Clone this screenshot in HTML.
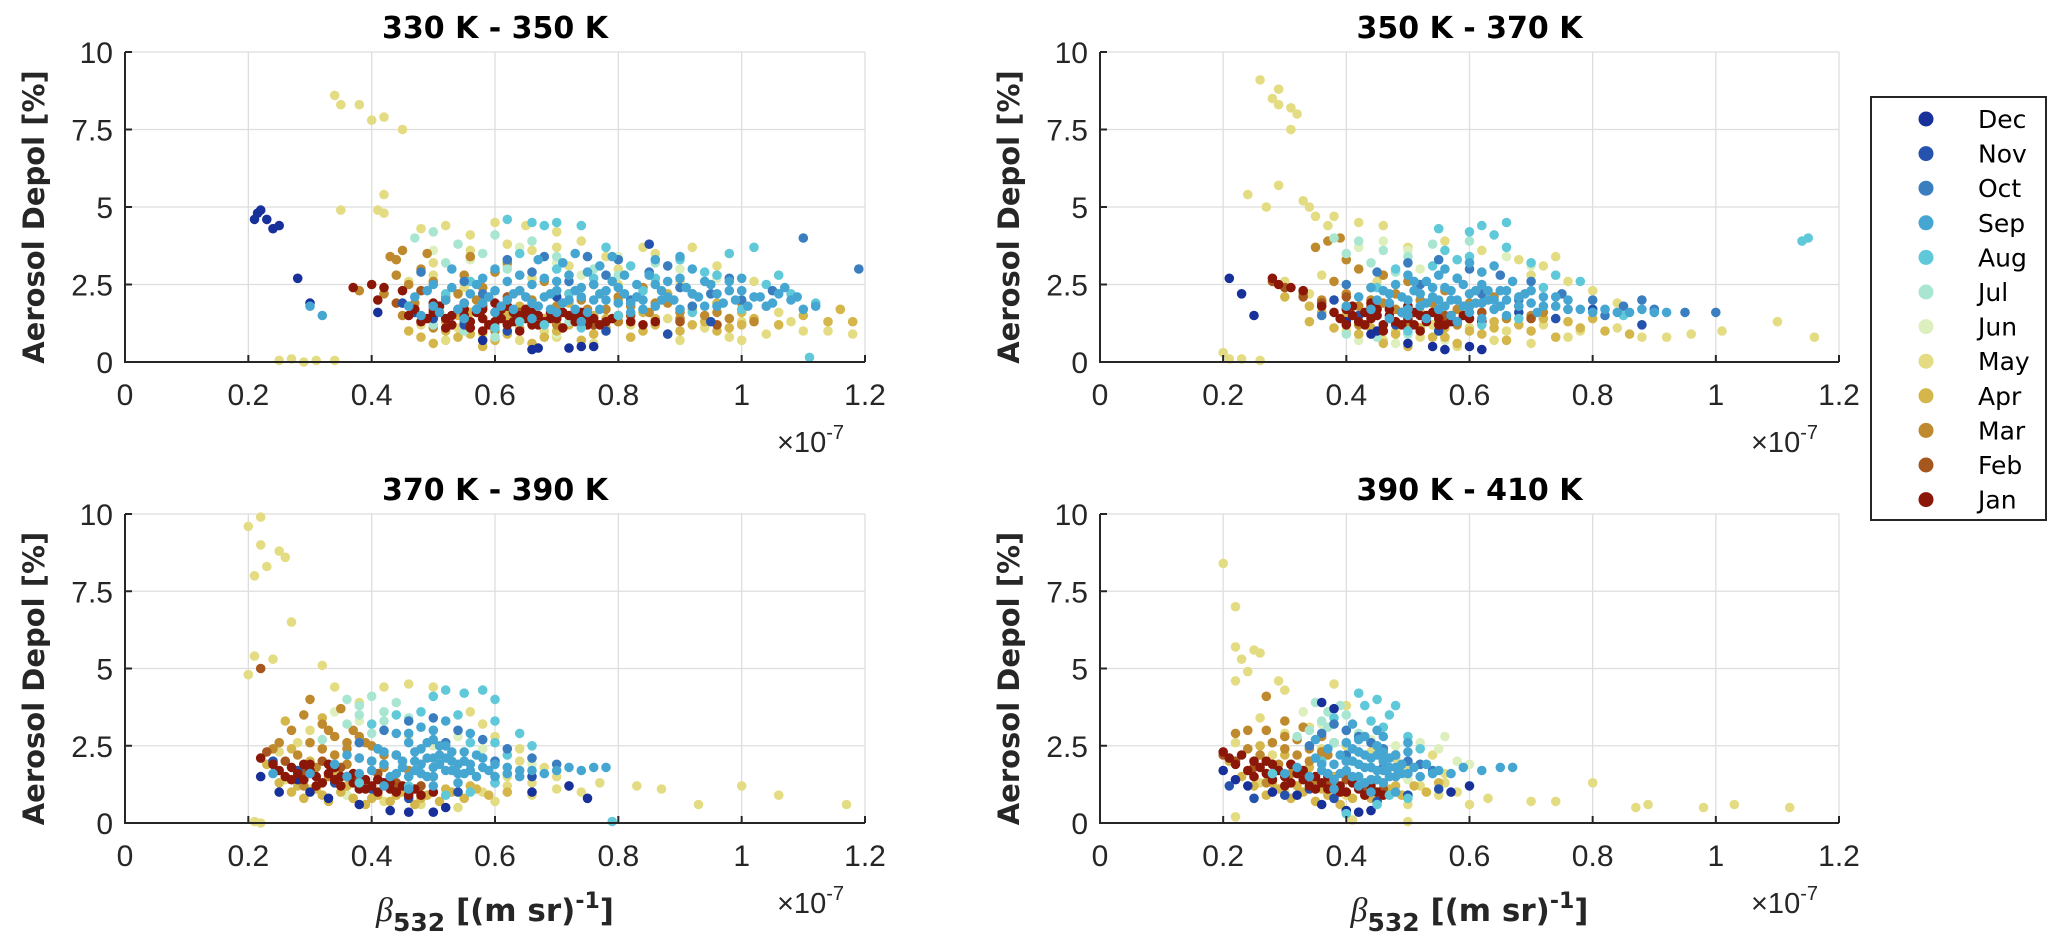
<!DOCTYPE html>
<html><head><meta charset="utf-8">
<style>
html,body{margin:0;padding:0;background:#fff;}
svg{display:block;font-family:"Liberation Sans","DejaVu Sans",sans-serif;}
</style></head>
<body>
<svg id="fig" width="2067" height="951" viewBox="0 0 2067 951" xmlns="http://www.w3.org/2000/svg"></svg>
<script>
// ---------- data ----------
const months = ["Dec","Nov","Oct","Sep","Aug","Jul","Jun","May","Apr","Mar","Feb","Jan"];
const monthColors = ["#17309a","#2452ad","#3a7ec0","#46a6d2","#5fc9d9","#a9e6d2","#dcefbd","#e4dc82","#d4b64a","#bf8a2e","#a6571e","#8a1708"];
const drawOrder = ["May","Jun","Apr","Mar","Jul","Feb","Dec","Nov","Jan","Aug","Oct","Sep"];
const xTicks = [0,0.2,0.4,0.6,0.8,1,1.2];
const xTickLabels = ["0","0.2","0.4","0.6","0.8","1","1.2"];
const yTicks = [0,2.5,5,7.5,10];
const yTickLabels = ["0","2.5","5","7.5","10"];
const panelTitles = ["330 K - 350 K","350 K - 370 K","370 K - 390 K","390 K - 410 K"];

// panel 1 : 330-350 K   (x in 1e-7 (m sr)^-1, y in %)
const p1_Dec=[0.21,4.6,0.215,4.8,0.22,4.9,0.23,4.6,0.24,4.3,0.25,4.4,0.28,2.7,0.30,1.9,0.66,0.4,0.67,0.45,0.72,0.45,0.74,0.5,0.76,0.5,0.41,1.6,0.58,0.7];
const p1_Nov=[0.45,1.9,0.5,1.4,0.55,1.2,0.62,1.0,0.7,2.1,0.78,1.0,0.85,3.8,0.95,1.3,0.47,1.6,0.88,0.9];
const p1_Oct=[0.48,2.9,0.55,2.6,0.62,3.3,0.68,3.4,0.75,3.4,0.8,3.3,0.85,2.9,0.9,2.4,0.95,2.2,1.0,2.0,1.05,2.3,1.1,4.0,1.19,3.0,0.72,2.6,0.82,2.0,0.92,1.8,0.58,2.2,0.66,2.9,0.78,2.8,0.88,3.1,0.98,2.7];
const p1_Sep=[0.32,1.5,0.3,1.8,0.46,1.8,0.48,1.5,0.5,1.8,0.52,2.0,0.54,1.7,0.56,2.2,0.58,1.9,0.6,1.6,0.6,2.3,0.62,2.0,0.63,1.7,0.65,2.1,0.66,2.5,0.67,1.8,0.69,2.2,0.7,1.6,0.7,2.6,0.72,2.0,0.73,1.7,0.74,2.4,0.75,2.9,0.76,2.0,0.77,1.7,0.78,2.3,0.79,2.6,0.8,1.9,0.81,2.2,0.82,1.6,0.83,2.5,0.84,2.0,0.85,2.8,0.86,1.8,0.87,2.3,0.88,2.6,0.89,2.0,0.9,1.7,0.91,2.4,0.92,3.0,0.93,2.1,0.94,1.8,0.95,2.5,0.96,2.2,0.97,1.9,0.98,2.6,0.99,2.0,1.0,2.3,1.01,1.8,1.03,2.1,1.05,1.9,1.07,2.4,1.08,2.0,1.1,1.7,1.12,1.8,0.58,2.7,0.64,2.8,0.71,3.2,0.79,3.4,0.55,1.4,0.66,1.4,0.74,1.3,0.5,2.5,0.53,3.0,
0.47,2.1,0.49,2.3,0.51,1.6,0.53,2.4,0.55,1.9,0.57,2.5,0.59,2.1,0.61,1.8,0.62,2.6,0.64,2.3,0.66,1.9,0.68,2.1,0.68,2.7,0.7,2.3,0.71,1.9,0.72,2.8,0.74,2.1,0.75,1.6,0.76,2.5,0.78,2.0,0.8,2.4,0.81,2.8,0.83,2.1,0.84,1.7,0.86,2.5,0.88,2.1,0.9,2.7,0.92,2.2,0.94,2.6,0.96,1.8,0.98,2.3,1.0,2.7,1.02,2.1,1.04,1.8,1.06,2.2,1.09,2.1,0.6,3.0,0.67,3.3,0.73,3.5,0.77,3.1,0.86,3.3,0.9,3.4,0.57,1.7,0.63,2.2,0.69,1.7,0.73,2.3,0.77,2.2,0.82,1.9,0.87,2.0];
const p1_Aug=[0.62,4.6,0.66,4.5,0.68,4.4,0.7,4.5,0.74,4.4,0.64,3.5,0.7,3.0,0.78,3.7,0.82,3.1,0.86,2.7,0.9,3.3,0.94,2.9,0.98,3.5,1.02,3.7,1.06,2.8,1.08,2.2,1.12,1.9,1.11,0.15,1.0,1.7,0.6,1.1,0.68,1.2,0.8,1.5,0.52,2.2,0.56,2.6,0.92,1.6,0.72,2.2,0.76,2.7,0.84,2.3,0.96,2.8,1.04,2.5,0.64,1.3,0.74,1.1];
const p1_Jul=[0.47,4.0,0.5,4.2,0.54,3.8,0.6,4.1,0.66,3.9,0.52,3.2,0.58,3.5,0.62,3.0,0.7,3.4,0.76,3.0,0.8,2.8,0.55,1.0,0.6,0.8,0.5,1.2,0.72,1.3,0.86,3.2];
const p1_Jun=[0.5,3.6,0.56,3.3,0.6,2.9,0.64,3.7,0.7,3.2,0.74,2.8,0.8,3.4,0.86,2.6,0.9,3.0,0.96,2.7,0.62,1.0,0.7,0.9];
const p1_May=[0.34,8.6,0.35,8.3,0.38,8.3,0.4,7.8,0.42,7.9,0.45,7.5,0.35,4.9,0.41,4.9,0.42,5.4,0.42,4.8,0.25,0.05,0.27,0.1,0.29,0.0,0.31,0.05,0.34,0.05,
0.48,4.3,0.52,4.4,0.56,4.1,0.6,4.5,0.65,4.4,0.7,4.2,0.74,3.9,0.5,3.2,0.56,3.6,0.62,3.1,0.66,3.6,0.72,3.1,0.78,3.4,0.84,3.7,0.88,3.1,0.92,3.7,0.98,3.5,1.02,2.6,1.06,1.6,1.1,1.0,1.14,1.0,1.18,0.9,1.16,1.7,1.04,0.9,0.98,0.8,0.9,0.7,0.84,1.0,0.76,0.6,0.7,0.8,0.64,0.7,0.58,0.9,0.52,0.7,0.48,1.2,0.55,2.4,0.66,2.7,0.8,2.5,0.9,2.6,1.0,1.3,
0.46,2.6,0.5,2.8,0.54,1.1,0.6,1.3,0.68,1.0,0.74,1.5,0.82,1.2,0.88,1.4,0.94,1.1,1.0,0.7,1.08,1.3,0.62,3.8,0.7,3.7,0.8,3.0,0.86,3.5,0.96,3.1];
const p1_Apr=[0.5,0.6,0.54,0.8,0.58,0.5,0.62,0.9,0.66,0.6,0.7,1.0,0.74,0.7,0.78,1.1,0.82,0.8,0.86,1.2,0.9,1.0,0.94,1.3,0.98,1.1,1.02,1.4,1.06,1.2,1.1,1.5,1.14,1.3,1.18,1.3,1.16,1.7,0.46,1.0,0.52,1.3,0.6,1.2,0.68,1.4,0.76,1.5,0.84,1.6,0.92,1.7,1.0,1.6,0.56,1.6,0.64,1.8,0.72,1.9,0.8,2.0,0.88,2.2,0.96,1.9,1.04,1.8,
0.48,0.8,0.52,1.0,0.56,0.9,0.6,0.7,0.64,1.1,0.68,0.8,0.72,1.2,0.76,0.9,0.8,1.3,0.84,1.0,0.88,0.9,0.92,1.2,0.96,1.0,1.0,1.2,0.54,1.5,0.62,1.5,0.7,1.6,0.78,1.4,0.86,1.4];
const p1_Mar=[0.38,2.3,0.42,2.2,0.44,2.8,0.44,3.3,0.45,3.6,0.46,2.5,0.48,3.0,0.5,2.6,0.52,2.1,0.55,2.8,0.58,2.4,0.6,2.9,0.64,2.3,0.68,2.6,0.72,2.2,0.76,2.5,0.8,2.1,0.84,2.4,0.88,1.9,0.92,2.2,0.96,1.6,1.0,1.9,0.5,1.1,0.6,1.0,0.7,1.2,0.8,1.3,0.9,1.4,0.45,1.5,0.55,1.3,0.65,1.6,0.75,1.7,0.85,1.6,0.62,3.2,0.56,3.4,
0.47,1.9,0.51,1.8,0.54,2.2,0.57,2.0,0.62,1.8,0.66,2.0,0.7,1.8,0.74,2.0,0.78,1.7,0.82,1.8,0.86,1.9,0.9,1.6,0.94,1.5,0.98,1.4,1.02,1.3,0.49,3.5,0.43,3.4];
const p1_Feb=[0.44,1.9,0.48,2.3,0.52,2.0,0.58,1.8,0.64,1.6,0.7,1.4,0.76,1.2,0.82,1.5,0.9,1.3,0.96,1.2,0.5,1.7,0.62,2.1];
const p1_Jan=[0.37,2.4,0.4,2.5,0.42,2.4,0.41,2.0,0.45,2.3,0.46,1.5,0.48,1.3,0.5,1.6,0.52,1.4,0.53,1.2,0.54,1.7,0.55,1.5,0.56,1.3,0.57,1.6,0.58,1.4,0.59,1.2,0.6,1.6,0.61,1.4,0.62,1.8,0.63,1.3,0.64,1.5,0.65,1.7,0.66,1.2,0.67,1.5,0.68,1.3,0.69,1.6,0.7,1.4,0.71,1.1,0.72,1.5,0.73,1.3,0.74,1.6,0.75,1.2,0.76,1.4,0.78,1.3,0.8,1.5,0.5,1.9,0.55,1.9,0.6,1.9,0.52,1.1,0.58,1.0,0.64,1.0,
0.47,1.7,0.49,1.4,0.51,1.8,0.53,1.5,0.55,1.7,0.56,1.1,0.58,1.7,0.6,1.3,0.61,1.7,0.62,1.2,0.63,1.6,0.65,1.4,0.66,1.6,0.67,1.2,0.69,1.4,0.71,1.6,0.73,1.5,0.75,1.4,0.77,1.2,0.79,1.4,0.82,1.3,0.84,1.2,0.86,1.3];

// panel 2 : 350-370 K
const p2_Dec=[0.21,2.7,0.23,2.2,0.25,1.5,0.4,1.3,0.45,1.0,0.5,0.6,0.54,0.5,0.56,0.4,0.6,0.5,0.62,0.4,0.44,0.9];
const p2_Nov=[0.38,2.0,0.42,1.5,0.48,1.2,0.55,1.0,0.62,1.3,0.68,1.6,0.74,1.4,0.8,1.7,0.88,1.2];
const p2_Oct=[0.36,1.5,0.4,2.5,0.45,2.9,0.5,3.2,0.55,3.3,0.6,3.0,0.65,2.8,0.7,2.6,0.75,2.2,0.8,2.0,0.85,1.8,0.9,1.7,0.95,1.6,1.0,1.6,0.82,1.5,0.88,2.0,0.52,2.5,0.58,2.7,0.62,2.2,0.68,2.0];
const p2_Sep=[0.4,1.8,0.42,2.1,0.44,1.7,0.46,2.3,0.47,1.9,0.48,2.5,0.49,1.6,0.5,2.0,0.51,2.3,0.52,1.8,0.53,2.6,0.54,2.1,0.55,1.7,0.56,2.4,0.57,2.0,0.58,2.7,0.59,1.8,0.6,2.2,0.61,1.9,0.62,2.5,0.63,2.0,0.64,1.7,0.65,2.3,0.66,2.0,0.67,2.6,0.68,1.8,0.69,2.2,0.7,1.9,0.71,1.6,0.72,2.1,0.74,1.8,0.76,2.0,0.78,1.7,0.8,1.6,0.82,1.7,0.84,1.6,0.86,1.6,0.88,1.7,0.9,1.6,0.92,1.6,0.53,1.4,0.58,1.3,0.62,1.4,0.5,2.8,0.56,3.0,0.6,3.2,0.64,3.1,0.47,1.4,0.66,1.5,
0.45,2.0,0.47,2.2,0.49,2.1,0.5,1.7,0.51,2.6,0.52,2.2,0.53,1.9,0.54,2.4,0.55,2.0,0.56,1.8,0.57,2.3,0.58,2.0,0.59,2.5,0.6,1.8,0.61,2.3,0.62,1.9,0.63,2.3,0.64,2.0,0.65,1.8,0.66,2.3,0.68,2.1,0.7,2.3,0.72,1.8,0.74,2.1,0.76,1.7,0.55,2.8,0.62,2.9,0.57,1.5,0.6,1.6,0.5,1.5,0.44,2.4];
const p2_Aug=[0.55,4.3,0.6,4.2,0.62,4.4,0.64,4.1,0.66,4.5,0.56,3.6,0.6,3.4,0.66,3.7,0.7,3.2,0.74,2.8,0.78,2.6,0.72,2.4,0.62,1.2,0.68,1.4,0.5,1.0,1.14,3.9,1.15,4.0,0.45,2.4,0.85,1.5,0.9,1.6,0.54,3.1,0.58,3.3,0.48,3.0];
const p2_Jul=[0.38,4.0,0.42,3.9,0.46,3.6,0.4,3.5,0.44,3.2,0.5,3.4,0.54,3.8,0.6,3.9,0.48,2.9,0.4,0.9,0.45,0.8,0.5,0.9,0.55,1.0];
const p2_Jun=[0.42,3.7,0.46,3.9,0.5,3.6,0.52,3.0,0.58,3.3,0.62,2.9,0.66,3.4,0.7,3.1,0.42,0.7,0.48,0.6,0.56,0.7];
const p2_May=[0.26,9.1,0.28,8.5,0.29,8.8,0.29,8.3,0.31,8.2,0.32,8.0,0.31,7.5,0.24,5.4,0.29,5.7,0.27,5.0,0.33,5.2,0.35,4.7,0.34,5.0,0.37,4.4,0.38,4.7,0.2,0.3,0.21,0.1,0.23,0.1,0.26,0.05,1.01,1.0,1.1,1.3,1.16,0.8,
0.42,4.5,0.46,4.4,0.5,3.7,0.56,3.9,0.62,3.6,0.68,3.3,0.72,3.1,0.76,2.6,0.8,2.3,0.84,1.9,0.88,0.8,0.92,0.8,0.96,0.9,0.76,0.8,0.7,0.6,0.64,0.7,0.58,0.5,0.52,0.8,0.46,0.7,0.4,1.0,0.3,2.6,0.34,2.2,0.36,2.8,0.45,2.6,
0.6,1.1,0.66,1.0,0.72,1.2,0.78,1.0,0.84,1.1,0.54,1.2,0.48,1.0,0.7,2.8,0.74,3.4];
const p2_Apr=[0.34,1.3,0.38,1.1,0.42,0.9,0.46,0.6,0.5,0.5,0.54,0.8,0.58,0.6,0.62,0.9,0.66,0.7,0.7,1.0,0.74,0.8,0.78,1.1,0.82,1.0,0.86,0.9,0.4,1.5,0.48,1.3,0.56,1.1,0.64,1.3,0.72,1.4,0.8,1.4,0.3,2.1,0.34,1.8,0.44,2.0,0.52,1.6,
0.36,1.6,0.4,1.2,0.44,1.1,0.48,0.9,0.52,1.1,0.56,0.8,0.6,1.0,0.64,1.1,0.68,1.2,0.76,1.3];
const p2_Mar=[0.35,3.7,0.37,3.9,0.39,4.0,0.4,3.3,0.38,2.6,0.42,3.0,0.44,2.4,0.46,2.8,0.48,2.2,0.5,2.6,0.52,2.0,0.56,2.3,0.6,1.9,0.64,2.1,0.68,1.8,0.72,1.6,0.76,1.7,0.42,1.2,0.5,1.3,0.58,1.2,0.66,1.4,0.33,2.2,0.36,2.0,
0.4,2.2,0.42,1.8,0.44,2.0,0.46,1.9,0.48,1.7,0.54,1.9,0.58,1.7,0.62,1.6,0.7,1.5];
const p2_Feb=[0.28,2.6,0.3,2.4,0.33,2.1,0.36,1.9,0.4,2.1,0.44,1.8,0.5,1.6,0.56,1.5,0.62,1.6,0.7,1.4];
const p2_Jan=[0.28,2.7,0.29,2.5,0.31,2.4,0.33,2.3,0.38,1.6,0.39,1.4,0.4,1.7,0.41,1.5,0.42,1.3,0.43,1.6,0.44,1.4,0.45,1.7,0.46,1.2,0.47,1.5,0.48,1.3,0.49,1.6,0.5,1.4,0.51,1.2,0.52,1.5,0.53,1.3,0.54,1.6,0.55,1.4,0.56,1.2,0.57,1.5,0.58,1.3,0.6,1.4,0.62,1.3,0.44,1.9,0.5,1.8,0.4,1.2,0.46,1.0,0.52,1.0,
0.41,1.8,0.43,1.2,0.45,1.5,0.47,1.7,0.49,1.2,0.51,1.6,0.53,1.5,0.55,1.2,0.57,1.3,0.59,1.5,0.36,1.8];

// panel 3 : 370-390 K
const p3_Dec=[0.22,1.5,0.25,1.0,0.28,1.4,0.3,1.0,0.33,0.8,0.38,0.6,0.43,0.4,0.46,0.35,0.5,0.35,0.52,0.5,0.66,1.0,0.72,1.2,0.75,0.8];
const p3_Nov=[0.24,2.0,0.28,1.7,0.34,1.3,0.4,1.1,0.46,0.8,0.54,1.0,0.6,1.3,0.66,1.5];
const p3_Oct=[0.38,2.6,0.42,3.0,0.46,3.3,0.5,3.4,0.54,3.0,0.58,2.7,0.62,2.4,0.66,2.1,0.7,1.9,0.44,2.2,0.52,2.6,0.6,2.0];
const p3_Sep=[0.3,1.6,0.34,1.9,0.36,1.5,0.38,2.1,0.4,1.7,0.41,2.4,0.42,1.9,0.43,1.5,0.44,2.2,0.45,1.8,0.46,2.6,0.47,2.0,0.48,1.6,0.48,2.4,0.49,2.1,0.5,1.8,0.5,2.7,0.51,2.2,0.52,1.7,0.52,2.5,0.53,2.0,0.54,1.6,0.55,2.3,0.56,1.9,0.57,1.5,0.58,2.1,0.59,1.7,0.6,1.5,0.62,1.6,0.64,1.5,0.66,1.7,0.68,1.6,0.7,1.7,0.72,1.8,0.74,1.7,0.76,1.8,0.78,1.8,0.42,1.2,0.46,1.1,0.5,1.2,0.54,1.3,0.44,2.9,0.48,3.1,0.52,3.3,0.56,2.9,0.24,1.6,
0.44,1.6,0.45,2.0,0.46,1.5,0.47,2.3,0.47,1.7,0.48,1.9,0.49,1.5,0.49,2.6,0.5,2.1,0.5,1.5,0.51,1.9,0.51,2.5,0.52,2.1,0.53,1.7,0.53,2.3,0.54,1.9,0.55,1.6,0.55,2.0,0.56,1.7,0.57,2.2,0.58,1.8,0.6,1.9,0.62,1.8,0.64,1.7,0.4,2.0,0.42,2.3,0.46,2.9,0.5,3.0,0.38,1.6,0.36,2.2];
const p3_Aug=[0.5,4.1,0.52,4.3,0.55,4.2,0.58,4.3,0.6,4.0,0.48,3.6,0.54,3.5,0.6,3.3,0.64,2.9,0.66,2.5,0.62,2.2,0.4,3.2,0.44,3.5,0.46,1.2,0.52,0.9,0.56,1.0,0.38,1.3,0.79,0.05,0.6,1.3,0.56,2.6,0.6,2.6];
const p3_Jul=[0.36,4.0,0.38,3.8,0.4,4.1,0.42,3.6,0.44,3.9,0.46,3.4,0.36,3.2,0.4,2.9,0.32,2.7,0.5,3.0,0.38,3.5,0.42,3.3];
const p3_Jun=[0.34,3.6,0.38,3.3,0.42,3.0,0.46,2.8,0.5,2.5,0.54,2.8,0.58,2.4,0.62,2.2,0.66,1.9,0.3,1.0,0.36,0.9];
const p3_May=[0.2,9.6,0.22,9.9,0.22,9.0,0.21,8.0,0.23,8.3,0.25,8.8,0.26,8.6,0.27,6.5,0.21,5.4,0.24,5.3,0.2,4.8,0.32,5.1,0.21,0.05,0.22,0.0,0.62,1.5,0.7,1.1,0.77,1.3,0.83,1.2,0.87,1.1,0.93,0.6,1.0,1.2,1.06,0.9,1.17,0.6,
0.34,4.4,0.38,3.9,0.42,4.4,0.46,4.5,0.5,4.4,0.56,3.6,0.58,3.2,0.6,2.8,0.64,2.4,0.68,1.8,0.72,1.2,0.66,0.9,0.6,0.7,0.54,0.5,0.48,0.6,0.42,0.7,0.36,0.9,0.3,1.1,0.26,1.4,0.25,2.3,0.3,3.0,0.28,2.6,0.34,2.2,
0.62,1.2,0.66,1.3,0.7,1.5,0.74,1.0,0.58,1.0,0.64,2.0];
const p3_Apr=[0.23,1.9,0.25,1.3,0.27,1.0,0.29,0.8,0.31,1.1,0.33,0.7,0.35,1.0,0.37,0.8,0.39,0.6,0.41,0.9,0.43,0.7,0.45,1.0,0.47,0.6,0.49,0.9,0.51,0.7,0.53,1.0,0.55,0.8,0.57,1.1,0.59,0.9,0.62,1.0,0.27,2.4,0.3,2.0,0.34,1.6,0.38,1.3,0.26,3.3,0.32,3.4,
0.28,1.2,0.32,0.9,0.36,1.2,0.4,0.8,0.44,0.9,0.48,0.8,0.52,1.1,0.56,1.2];
const p3_Mar=[0.25,2.6,0.27,3.0,0.29,3.5,0.3,4.0,0.32,3.2,0.34,2.8,0.35,3.7,0.36,2.4,0.37,3.0,0.38,2.1,0.39,2.6,0.4,2.0,0.41,2.4,0.42,1.8,0.44,2.2,0.46,1.7,0.48,1.9,0.5,1.5,0.28,2.2,0.31,1.8,0.33,1.5,0.29,1.2,0.35,1.2,0.24,2.4,
0.3,2.6,0.32,2.4,0.34,2.2,0.36,2.6,0.33,3.0,0.38,2.8,0.4,2.5,0.42,2.2,0.36,1.9];
const p3_Feb=[0.22,5.0,0.23,2.3,0.26,2.0,0.29,1.7,0.32,2.0,0.35,1.8,0.38,1.5,0.41,1.6,0.44,1.3,0.48,1.2];
const p3_Jan=[0.22,2.1,0.24,1.9,0.25,1.7,0.26,1.5,0.27,1.8,0.28,1.6,0.29,1.4,0.3,1.7,0.31,1.5,0.32,1.3,0.33,1.6,0.34,1.4,0.35,1.2,0.36,1.5,0.37,1.3,0.38,1.1,0.39,1.4,0.4,1.2,0.41,1.0,0.42,1.3,0.43,1.1,0.44,1.0,0.45,1.2,0.46,0.9,0.47,1.1,0.48,0.9,0.5,1.0,0.3,1.9,0.34,1.8,
0.27,1.4,0.29,1.9,0.31,1.2,0.33,1.9,0.35,1.5,0.37,1.6,0.39,1.1,0.41,1.4,0.43,1.3];

// panel 4 : 390-410 K
const p4_Dec=[0.2,1.7,0.22,1.4,0.24,1.2,0.28,1.0,0.32,0.9,0.36,0.6,0.4,0.4,0.42,0.35,0.44,0.4,0.36,3.9,0.38,3.7,0.57,1.0,0.6,1.2];
const p4_Nov=[0.21,1.2,0.25,0.8,0.3,0.9,0.34,1.1,0.38,0.8,0.45,0.7,0.5,0.9,0.55,1.1];
const p4_Oct=[0.34,2.5,0.36,2.9,0.38,3.2,0.4,3.0,0.42,2.8,0.44,2.6,0.46,2.4,0.48,2.2,0.5,2.0,0.52,1.9,0.4,2.2,0.46,1.8,0.54,1.7];
const p4_Sep=[0.3,1.6,0.32,1.8,0.34,1.5,0.35,2.1,0.36,1.7,0.37,2.4,0.38,1.9,0.38,1.4,0.39,2.2,0.4,1.7,0.4,2.6,0.41,2.0,0.42,1.5,0.42,2.3,0.43,1.8,0.43,2.8,0.44,2.1,0.44,1.4,0.45,1.7,0.45,2.5,0.46,2.0,0.46,1.3,0.47,1.8,0.48,2.2,0.48,1.5,0.49,1.9,0.5,1.6,0.5,2.3,0.51,1.8,0.52,1.5,0.53,1.9,0.54,1.6,0.55,1.7,0.57,1.6,0.59,1.8,0.62,1.7,0.65,1.8,0.67,1.8,0.41,3.2,0.45,3.0,0.38,1.1,0.44,1.0,0.48,1.0,0.5,2.6,0.35,2.7,
0.39,1.6,0.4,2.0,0.41,1.5,0.41,2.4,0.42,1.9,0.43,1.3,0.43,2.2,0.44,1.8,0.45,2.2,0.45,1.4,0.46,1.7,0.46,2.3,0.47,1.5,0.47,2.1,0.48,1.8,0.49,1.6,0.42,1.2,0.36,1.9,0.37,1.6,0.42,2.7,0.46,2.8];
const p4_Aug=[0.42,4.2,0.45,4.0,0.43,3.8,0.47,3.5,0.48,3.8,0.44,3.3,0.38,3.4,0.5,2.8,0.52,2.4,0.4,0.3,0.45,0.6,0.5,0.8,0.47,0.9,0.28,1.6,0.36,2.0,0.46,3.1];
const p4_Jul=[0.35,3.9,0.37,3.6,0.36,3.3,0.39,3.8,0.4,3.5,0.34,3.0,0.32,2.8,0.42,2.9,0.38,2.6,0.37,3.1];
const p4_Jun=[0.33,3.6,0.36,3.2,0.4,3.0,0.44,2.7,0.48,2.5,0.52,2.6,0.55,2.4,0.58,2.0,0.6,1.9,0.56,2.8,0.5,1.4];
const p4_May=[0.2,8.4,0.22,7.0,0.22,5.7,0.23,5.3,0.25,5.6,0.26,5.5,0.24,4.9,0.22,4.6,0.29,4.6,0.3,4.3,0.38,4.5,0.22,0.2,0.41,0.1,0.5,0.05,0.6,0.6,0.63,0.8,0.7,0.7,0.74,0.7,0.8,1.3,0.87,0.5,0.89,0.6,0.98,0.5,1.03,0.6,1.12,0.5,
0.26,3.4,0.3,2.9,0.34,3.1,0.36,2.4,0.4,2.5,0.44,2.3,0.48,2.1,0.52,1.9,0.56,1.6,0.58,1.0,0.55,0.9,0.5,0.6,0.45,0.7,0.4,0.9,0.35,0.7,0.3,1.0,0.26,1.3,0.22,2.6,0.28,2.2,0.4,3.8,
0.52,1.2,0.56,1.3,0.54,2.2,0.5,1.8,0.46,0.9];
const p4_Apr=[0.21,2.0,0.23,1.5,0.25,1.2,0.27,0.9,0.29,1.1,0.31,0.8,0.33,1.0,0.35,0.7,0.37,0.9,0.39,0.6,0.41,0.8,0.43,1.0,0.45,0.7,0.47,1.1,0.49,0.9,0.51,1.2,0.53,1.0,0.55,1.3,0.26,2.5,0.3,2.2,0.34,1.8,0.38,1.5,0.44,1.4,
0.28,1.3,0.32,1.2,0.36,1.1,0.4,1.0,0.44,0.8,0.48,1.2];
const p4_Mar=[0.22,2.9,0.24,3.0,0.27,3.0,0.27,4.1,0.3,3.3,0.32,2.7,0.33,3.1,0.34,2.4,0.36,2.8,0.37,2.2,0.38,2.6,0.4,2.0,0.42,2.3,0.44,1.8,0.46,2.0,0.26,2.2,0.29,1.9,0.31,1.6,0.27,1.3,0.35,1.4,
0.28,2.6,0.3,2.4,0.32,2.2,0.34,2.0,0.36,2.3,0.24,2.4,0.3,2.8];
const p4_Feb=[0.2,2.2,0.22,2.0,0.25,1.8,0.28,1.6,0.31,1.9,0.34,1.5,0.37,1.3,0.4,1.4,0.43,1.2,0.46,1.1];
const p4_Jan=[0.2,2.3,0.21,2.1,0.22,1.9,0.23,2.2,0.24,1.7,0.25,1.5,0.26,1.8,0.27,1.6,0.28,1.4,0.29,1.7,0.3,1.5,0.31,1.3,0.32,1.6,0.33,1.4,0.34,1.2,0.35,1.5,0.36,1.3,0.37,1.1,0.38,1.4,0.39,1.2,0.4,1.0,0.41,1.3,0.42,1.1,0.43,0.9,0.44,1.2,0.45,1.0,0.46,0.9,0.27,2.0,0.31,1.9,
0.25,2.0,0.28,1.9,0.3,1.2,0.33,1.7,0.35,1.1,0.37,1.5,0.39,1.0];

const panelSeries = [
 {Dec:p1_Dec,Nov:p1_Nov,Oct:p1_Oct,Sep:p1_Sep,Aug:p1_Aug,Jul:p1_Jul,Jun:p1_Jun,May:p1_May,Apr:p1_Apr,Mar:p1_Mar,Feb:p1_Feb,Jan:p1_Jan},
 {Dec:p2_Dec,Nov:p2_Nov,Oct:p2_Oct,Sep:p2_Sep,Aug:p2_Aug,Jul:p2_Jul,Jun:p2_Jun,May:p2_May,Apr:p2_Apr,Mar:p2_Mar,Feb:p2_Feb,Jan:p2_Jan},
 {Dec:p3_Dec,Nov:p3_Nov,Oct:p3_Oct,Sep:p3_Sep,Aug:p3_Aug,Jul:p3_Jul,Jun:p3_Jun,May:p3_May,Apr:p3_Apr,Mar:p3_Mar,Feb:p3_Feb,Jan:p3_Jan},
 {Dec:p4_Dec,Nov:p4_Nov,Oct:p4_Oct,Sep:p4_Sep,Aug:p4_Aug,Jul:p4_Jul,Jun:p4_Jun,May:p4_May,Apr:p4_Apr,Mar:p4_Mar,Feb:p4_Feb,Jan:p4_Jan}
];

// ---------- layout ----------
const NS="http://www.w3.org/2000/svg";
const svg=document.getElementById('fig');
const boxes=[
 {l:125,r:865,t:52,b:362},
 {l:1100,r:1839,t:52,b:362},
 {l:125,r:865,t:514,b:823},
 {l:1100,r:1839,t:514,b:823}
];
const X_MAX=1.2, Y_MAX=10;
function mk(tag,attrs,parent){const e=document.createElementNS(NS,tag);for(const k in attrs)e.setAttribute(k,attrs[k]);(parent||svg).appendChild(e);return e;}

boxes.forEach((bx,pi)=>{
  const xs=v=>bx.l+(v/X_MAX)*(bx.r-bx.l);
  const ys=v=>bx.b-(v/Y_MAX)*(bx.b-bx.t);
  const g=mk('g',{});
  
  
  xTicks.forEach(t=>{ if(t>0){const l=mk('line',{x1:xs(t),x2:xs(t),y1:bx.t,y2:bx.b,stroke:'#dedede','stroke-width':1.3},g);
    }});
  yTicks.forEach(t=>{ if(t>0){const l=mk('line',{x1:bx.l,x2:bx.r,y1:ys(t),y2:ys(t),stroke:'#dedede','stroke-width':1.3},g);
    }});
  const pts=mk('g',{},g);
  
  
  drawOrder.forEach(m=>{
    const arr=panelSeries[pi][m]; const col=monthColors[months.indexOf(m)];
    for(let i=0;i+1<arr.length;i+=2){
      const c=mk('circle',{cx:xs(arr[i]).toFixed(1),cy:ys(arr[i+1]).toFixed(1),r:4.8,fill:col},pts);
      
      
    }
  });
  const ax=mk('path',{d:`M${bx.l},${bx.t} L${bx.l},${bx.b} L${bx.r},${bx.b}`,fill:'none',stroke:'#262626','stroke-width':2},g);
  
  xTicks.forEach((t,i)=>{
    mk('line',{x1:xs(t),x2:xs(t),y1:bx.b,y2:bx.b-7,stroke:'#262626','stroke-width':2},g);
    const tx=mk('text',{x:xs(t),y:bx.b+43,'font-size':30,'text-anchor':'middle',fill:'#262626'},g);
    tx.textContent=xTickLabels[i];
    
  });
  yTicks.forEach((t,i)=>{
    mk('line',{x1:bx.l,x2:bx.l+7,y1:ys(t),y2:ys(t),stroke:'#262626','stroke-width':2},g);
    const tx=mk('text',{x:bx.l-12,y:ys(t)+11,'font-size':30,'text-anchor':'end',fill:'#262626'},g);
    tx.textContent=yTickLabels[i];
    
  });
  const mul=mk('text',{x:bx.r-88,y:bx.b+90,'font-size':29,fill:'#262626'},g);
  mul.innerHTML='×10<tspan dy="-13" font-size="20">-7</tspan>';
  
  const ti=mk('text',{x:(bx.l+bx.r)/2,y:bx.t-14,'font-size':30,'font-weight':'bold','text-anchor':'middle',fill:'#000','font-family':'DejaVu Sans, sans-serif'},g);
  ti.textContent=panelTitles[pi];
  
  const yl=mk('text',{x:0,y:0,'font-size':29,'font-weight':'bold','text-anchor':'middle',fill:'#262626','font-family':'DejaVu Sans, sans-serif',transform:`translate(${bx.l-81},${(bx.t+bx.b)/2+10}) rotate(-90)`},g);
  yl.textContent='Aerosol Depol [%]';
  
  if(pi>=2){
    const xl=mk('text',{x:(bx.l+bx.r)/2,y:bx.b+98,'font-size':31,'font-weight':'bold','text-anchor':'middle',fill:'#262626','font-family':'DejaVu Sans, sans-serif'},g);
    xl.innerHTML='<tspan font-style="italic" font-weight="normal" font-family="Liberation Serif, serif" font-size="34">β</tspan><tspan dy="10" font-size="25">532</tspan><tspan dy="-10"> [(m sr)</tspan><tspan dy="-13" font-size="22">-1</tspan><tspan dy="13">]</tspan>';
    
  }
});

const lg=mk('g',{});


mk('rect',{x:1871,y:97,width:175,height:423,fill:'#fff',stroke:'#262626','stroke-width':2},lg);
months.forEach((m,i)=>{
  const y=119+i*34.6;
  const c=mk('circle',{cx:1926,cy:y,r:7.5,fill:monthColors[i]},lg);
  
  
  const t=mk('text',{x:1978,y:y+9,'font-size':25,fill:'#000','font-family':'DejaVu Sans, sans-serif'},lg);
  t.textContent=m;
  
  
});
</script>
</body></html>
